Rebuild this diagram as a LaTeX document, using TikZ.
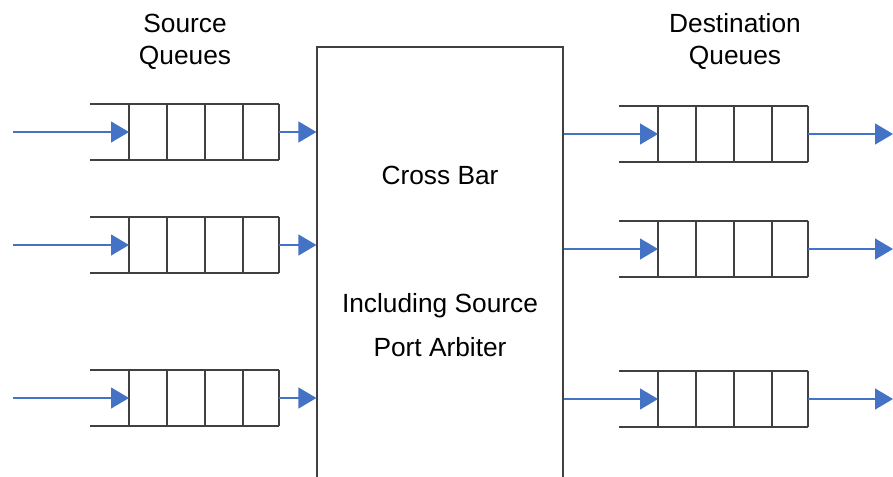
\documentclass[tikz,border=0pt]{standalone}
\usepackage{fontspec}
\setmainfont{Liberation Sans}
\usetikzlibrary{arrows.meta,calc}
\definecolor{flowblue}{HTML}{4472C4}
\definecolor{linegray}{HTML}{404040}
\tikzset{
  flow/.style={draw=flowblue, line width=1.2pt, -{Triangle[length=18pt,width=21pt]}},
  qline/.style={draw=linegray, line width=1.3pt},
  lbl/.style={anchor=base, inner sep=0pt, font=\fontsize{26.3}{32}\selectfont},
  queue/.pic={
    \draw[qline] (0,-28) -- (189,-28) (0,28) -- (189,28);
    \foreach \xx in {39,77,115,153,189} \draw[qline] (\xx,-28) -- (\xx,28);
    \coordinate (-in) at (39,0);
    \coordinate (-out) at (189,0);
  }
}
\begin{document}
\begin{tikzpicture}[x=1pt,y=-1pt]
\useasboundingbox (0,0) rectangle (893,476);
% crossbar
\node[draw=linegray, line width=1.2pt, minimum width=246pt, minimum height=433pt, inner sep=0pt] (xbar) at (440,263.5) {};
\node[lbl] (cb) at (440,184) {Cross Bar};
\node[lbl] (inc) at (440,312) {Including Source};
\node[lbl] (pa) at (440,356) {Port Arbiter};
% headings
\node[lbl] (sq1) at (185,33) {Source};
\node[lbl] (sq2) at (185,65) {Queues};
\node[lbl] (dq1) at (735,33) {Destination};
\node[lbl] (dq2) at (735,65) {Queues};
% source queues
\pic (s1) at (90,132) {queue};
\pic (s2) at (90,245) {queue};
\pic (s3) at (90,398) {queue};
% destination queues
\pic (d1) at (619,134) {queue};
\pic (d2) at (619,249) {queue};
\pic (d3) at (619,399) {queue};
% inputs
\foreach \i in {1,2,3} {
  \coordinate (a\i) at (13,0 |- s\i-in);
  \draw[flow] (a\i) -- (s\i-in);
  \draw[flow] (s\i-out) -- (s\i-out -| xbar.west);
  \draw[flow] (d\i-in -| xbar.east) -- (d\i-in);
  \coordinate (o\i) at (893,0 |- d\i-out);
  \draw[flow] (d\i-out) -- (o\i);
}
\end{tikzpicture}
\end{document}
